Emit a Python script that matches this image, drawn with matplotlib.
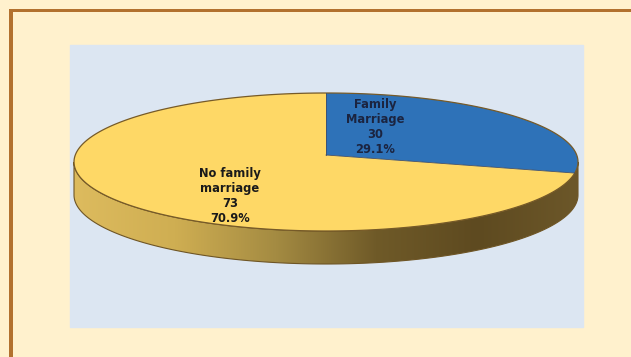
import numpy as np
import matplotlib
matplotlib.use("Agg")
import matplotlib.pyplot as plt
from matplotlib.patches import Rectangle, Polygon
from matplotlib.colors import LinearSegmentedColormap

# survey counts
labels = ["Family\nMarriage", "No family\nmarriage"]
counts = [30, 73]
face_colors = ["#2E72B8", "#FED866"]
text_colors = ["#1B2440", "#1A1A1A"]

W, H = 631, 357
fig = plt.figure(figsize=(W / 100, H / 100), dpi=100)
ax = fig.add_axes([0, 0, 1, 1])
ax.set_xlim(0, W)
ax.set_ylim(H, 0)
ax.axis("off")

# page background, frame and chart area
ax.add_patch(Rectangle((0, 0), W, H, color="#FFF1CD", zorder=0))
ax.add_patch(Rectangle((9, 9), W, 2.5, color="#B2712E", lw=0, zorder=1))
ax.add_patch(Rectangle((9, 9), 3.5, H, color="#B2712E", lw=0, zorder=1))
ax.add_patch(Rectangle((70, 45), 513, 282, color="#DCE6F2", zorder=1))

# 3d pie geometry (pixel coords)
cx, cy, a, b = 326, 162, 252, 69
depth = 33
vx, vy = 326, 155


def arc(t0, t1, n=200):
    t = np.radians(np.linspace(t0, t1, n))
    return np.column_stack([cx + a * np.cos(t), cy - b * np.sin(t)])


def rim(theta0, theta1, n=200):
    # points where rays from the pie apex hit the top ellipse
    t = np.radians(np.linspace(theta0, theta1, n))
    dx, dy = a * np.cos(t), -b * np.sin(t)
    ox, oy = vx - cx, vy - cy
    A = (dx / a) ** 2 + (dy / b) ** 2
    B = 2 * (ox * dx / a ** 2 + oy * dy / b ** 2)
    C = (ox / a) ** 2 + (oy / b) ** 2 - 1
    s = (-B + np.sqrt(B ** 2 - 4 * A * C)) / (2 * A)
    return np.column_stack([vx + s * dx, vy + s * dy])


# side wall with a horizontal gradient
lower = arc(180, 360)
side = np.vstack([lower, (lower + [0, depth])[::-1]])
side_poly = Polygon(side, closed=True, facecolor="none", edgecolor="#6E5525", lw=0.8, zorder=3)
ax.add_patch(side_poly)
grad = LinearSegmentedColormap.from_list(
    "side", ["#DDBB5E", "#CFAE52", "#A48B42", "#6F5A28", "#5E4A20", "#6C5729"])
img = ax.imshow(np.linspace(0, 1, 256)[None, :], cmap=grad, aspect="auto",
                extent=[cx - a, cx + a, cy + b + depth, cy - 5], zorder=2)
img.set_clip_path(side_poly)

# top faces
total = sum(counts)
start = 90.0
for cnt, col in zip(counts, face_colors):
    sweep = 360.0 * cnt / total
    pts = np.vstack([[vx, vy], rim(start, start - sweep)])
    ax.add_patch(Polygon(pts, closed=True, facecolor=col, edgecolor="none", zorder=4))
    start -= sweep

ax.add_patch(Polygon(arc(0, 360, 400), closed=True, facecolor="none",
                     edgecolor="#765A28", lw=0.9, zorder=5))
end_angle = 90 - 360.0 * counts[0] / total
p_top = rim(90, 90, 1)[0]
p_end = rim(end_angle, end_angle, 1)[0]
ax.plot([vx, p_top[0]], [vy, p_top[1]], color="#3F4F6A", lw=0.6, zorder=5)
ax.plot([vx, p_end[0]], [vy, p_end[1]], color="#3F4F6A", lw=0.6, zorder=5)

# data labels
label_pos = [(375, 127), (230, 196)]
for lab, cnt, (tx, ty), tc in zip(labels, counts, label_pos, text_colors):
    txt = "{}\n{}\n{:.1f}%".format(lab, cnt, 100.0 * cnt / total)
    ax.text(tx, ty, txt, ha="center", va="center", fontsize=8.3, fontweight="bold",
            color=tc, linespacing=1.2, zorder=6)

fig.savefig("out.png", dpi=100)
